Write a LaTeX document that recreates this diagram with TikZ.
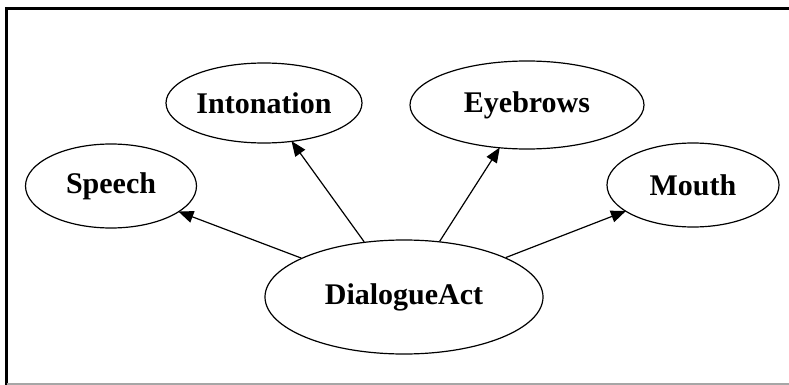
\documentclass[tikz,border=0pt]{standalone}
\usepackage{fontspec}
\setmainfont{Liberation Serif}
\usepackage{tikz}
\usetikzlibrary{shapes,arrows.meta}
\tikzstyle{state} = [draw, ellipse, line width=1.2pt, inner sep=0pt, font=\fontsize{30}{31}\selectfont\bfseries]
\tikzstyle{link} = [line width=1.2pt, -{Triangle[length=15pt,width=12pt]}, shorten >=-1pt]

\begin{document}
\begin{tikzpicture}[x=1pt,y=-1pt]
\useasboundingbox (0,0) rectangle (789,385);
%% Frame %%
\fill[white] (0,0) rectangle (789,385);
\draw[line width=3pt] (789,8.5) -- (6.5,8.5) -- (6.5,385);
\draw[gray!70, line width=2pt] (6.5,383.5) -- (789,383.5);

%% States %%
\node [state, minimum width=278pt, minimum height=114pt] (DialogueAct) at (404,297) {DialogueAct};
\node [state, minimum width=171pt, minimum height=84pt] (Speech) at (111,186) {Speech};
\node [state, minimum width=196pt, minimum height=80pt] (Intonation) at (264,103) {Intonation};
\node [state, minimum width=234pt, minimum height=88pt] (Eyebrows) at (527,105) {Eyebrows};
\node [state, minimum width=172pt, minimum height=84pt] (Mouth) at (693,185) {Mouth};

%% Forbindelse %%
\draw[link] (DialogueAct) -- (Speech);
\draw[link] (DialogueAct) -- (Intonation);
\draw[link] (DialogueAct) -- (Eyebrows);
\draw[link] (DialogueAct) -- (Mouth);

\end{tikzpicture}
\end{document}
